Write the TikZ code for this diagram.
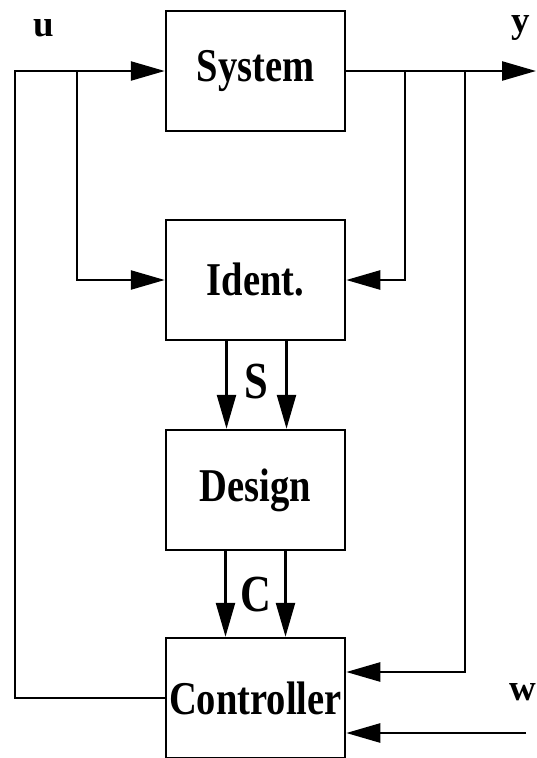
\documentclass[tikz,border=0pt]{standalone}
\usepackage{fontspec}
\setmainfont{Liberation Serif}
\newfontfamily\blkfont[FakeStretch=0.82]{Liberation Serif}
\usetikzlibrary{arrows.meta,positioning}
\tikzset{>={Triangle[length=34pt,width=19pt]}}
\tikzset{blk/.style={draw, line width=2.5pt, minimum width=179pt, minimum height=120pt, inner sep=0pt, font=\blkfont\fontsize{47}{48}\selectfont\bfseries},
  lbl/.style={font=\fontsize{37}{38}\selectfont\bfseries, inner sep=0pt}}

\begin{document}
\begin{tikzpicture}[x=1pt, y=-1pt, line width=2.5pt]
    \useasboundingbox (0,0) rectangle (536,758);
    % blocks
    \node[blk] (sys) at (255.5,71) {System};
    \node[blk] (ident) at (255.5,280) {Ident.};
    \node[blk] (design) at (255.5,490) {Design};
    \node[blk] (ctrl) at (255.5,698) {Controller};
    % branch points
    \coordinate (ul) at (15,71);
    \coordinate (ub) at (77,71);
    \coordinate (yb1) at (405,71);
    \coordinate (yb2) at (465,71);
    \coordinate (yout) at (536,71);
    \coordinate (win) at (526,733);
    % signals
    \draw[->] (ctrl.west) -| (ul) -- (sys.west);
    \draw[->] (ub) |- (ident.west);
    \draw[->] (sys.east) -- (yout);
    \draw[->] (yb1) |- (ident.east);
    \draw[->] (yb2) |- ([yshift=26pt]ctrl.east);
    \draw[->] (win) -- (win -| ctrl.east);
    \draw[->] ([xshift=-29pt]ident.south) -- ([xshift=-29pt]design.north);
    \draw[->] ([xshift=31pt]ident.south) -- ([xshift=31pt]design.north);
    \draw[->] ([xshift=-30pt]design.south) -- ([xshift=-30pt]ctrl.north);
    \draw[->] ([xshift=30pt]design.south) -- ([xshift=30pt]ctrl.north);
    % labels
    \node[lbl] (u) at (44,28) {u};
    \node[lbl] (y) at (521,28) {y};
    \node[lbl] (w) at (523,692) {w};
    \node[lbl, font=\blkfont\fontsize{52}{52}\selectfont\bfseries] (s) at (256,382) {S};
    \node[lbl, font=\blkfont\fontsize{52}{52}\selectfont\bfseries] (c) at (256,595) {C};
\end{tikzpicture}
\end{document}
